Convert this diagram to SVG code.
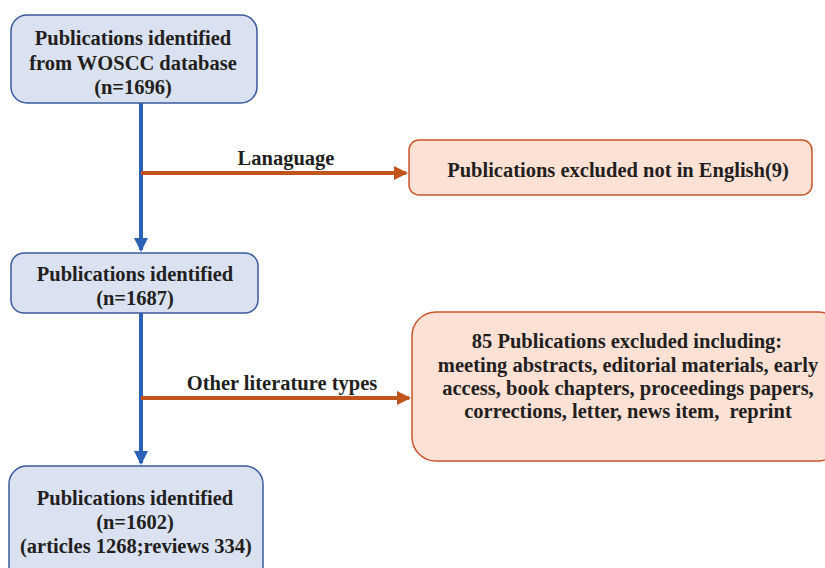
<svg xmlns="http://www.w3.org/2000/svg" width="825" height="568" viewBox="0 0 825 568">
<defs>
<style>
.bn{fill:#dae2f1;stroke:#3a5a9c;stroke-width:1.5}
.on{fill:#fde1d5;stroke:#c9562c;stroke-width:1.5}
.t{font-family:'Liberation Serif','Times New Roman',serif;font-weight:700;font-size:20.5px;fill:#231f20;text-anchor:middle}
.bl{stroke:#2a62b8;stroke-width:4;fill:none}
.ol{stroke:#c1531d;stroke-width:4;fill:none}
</style>
<marker id="ab" markerWidth="3.6" markerHeight="3.6" refX="3.1" refY="1.8" orient="auto" markerUnits="strokeWidth"><path d="M0,0 L3.6,1.8 L0,3.6 z" fill="#2a62b8"/></marker>
<marker id="ao" markerWidth="3.6" markerHeight="3.6" refX="3.1" refY="1.8" orient="auto" markerUnits="strokeWidth"><path d="M0,0 L3.6,1.8 L0,3.6 z" fill="#c1531d"/></marker>
</defs>
<rect width="825" height="568" fill="#ffffff"/>
<g id="connectors">
<line class="bl" x1="141" y1="103" x2="141" y2="250" marker-end="url(#ab)"/>
<line class="bl" x1="141" y1="313" x2="141" y2="463" marker-end="url(#ab)"/>
<line class="ol" x1="141" y1="173" x2="406" y2="173" marker-end="url(#ao)"/>
<line class="ol" x1="141" y1="398" x2="409" y2="398" marker-end="url(#ao)"/>
<text class="t" x="286" y="165">Lanaguage</text>
<text class="t" x="282" y="390">Other literature types</text>
</g>
<g id="n1">
<rect class="bn" x="11" y="15" width="246" height="88" rx="16"/>
<text class="t" x="133" y="45">Publications identified</text>
<text class="t" x="133" y="70">from WOSCC database</text>
<text class="t" x="133" y="94">(n=1696)</text>
</g>
<g id="n2">
<rect class="bn" x="11" y="253" width="247" height="60" rx="13"/>
<text class="t" x="135" y="281">Publications identified</text>
<text class="t" x="135" y="305">(n=1687)</text>
</g>
<g id="n3">
<rect class="bn" x="9" y="466" width="254" height="120" rx="18"/>
<text class="t" x="135" y="505">Publications identified</text>
<text class="t" x="135" y="529">(n=1602)</text>
<text class="t" x="136" y="553">(articles 1268;reviews 334)</text>
</g>
<g id="n4">
<rect class="on" x="409" y="140" width="403" height="55" rx="10"/>
<text class="t" x="618" y="177">Publications excluded not in English(9)</text>
</g>
<g id="n5">
<rect class="on" x="412" y="312" width="430" height="149" rx="24"/>
<text class="t" x="627" y="348">85 Publications excluded including:</text>
<text class="t" x="628" y="372">meeting abstracts, editorial materials, early</text>
<text class="t" x="628" y="395">access, book chapters, proceedings papers,</text>
<text class="t" x="628" y="418" xml:space="preserve">corrections, letter, news item,  reprint</text>
</g>
</svg>
